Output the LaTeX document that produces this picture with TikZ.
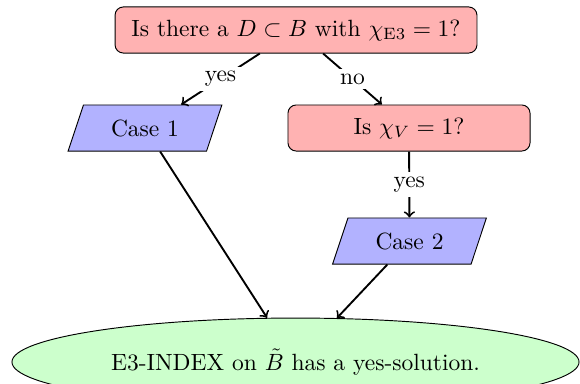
\documentclass[tikz,border=0pt]{standalone}
\usetikzlibrary{shapes.geometric}
\begin{document}
\begin{tikzpicture}[x=0.4255pt,y=-0.4255pt,
  decision/.style={draw,rounded corners=3.5pt,fill=red!30,minimum height=19.6pt,inner sep=2pt},
  casebox/.style={draw,trapezium,trapezium left angle=70,trapezium right angle=110,trapezium stretches=true,fill=blue!30,minimum width=65.5pt,minimum height=19.6pt,inner sep=2pt},
  result/.style={draw,ellipse,fill=green!20,minimum width=241.3pt,minimum height=37.4pt,inner sep=1pt},
  conn/.style={->,thick},
  lbl/.style={fill=white,inner sep=2pt}]
\useasboundingbox (0,0) rectangle (580,383);
\node[decision,minimum width=154pt] (q1) at (296,30) {Is there a $D \subset B$ with $\chi_{\mathrm{E3}} = 1$?};
\node[decision,minimum width=103pt] (q2) at (409,128) {Is $\chi_V = 1$?};
\node[casebox] (c1) at (145,128) {Case 1};
\node[casebox] (c2) at (409.5,241) {Case 2};
\node[result] (r) at (295.5,362) {E3-INDEX on $\tilde{B}$ has a yes-solution.};
\draw[conn] (q1) -- node[lbl] {yes} (c1);
\draw[conn] (q1) -- node[lbl] {no} (q2);
\draw[conn] (q2) -- node[lbl] {yes} (c2);
\draw[conn] (c1) -- (r);
\draw[conn] (c2) -- (r);
\end{tikzpicture}
\end{document}
